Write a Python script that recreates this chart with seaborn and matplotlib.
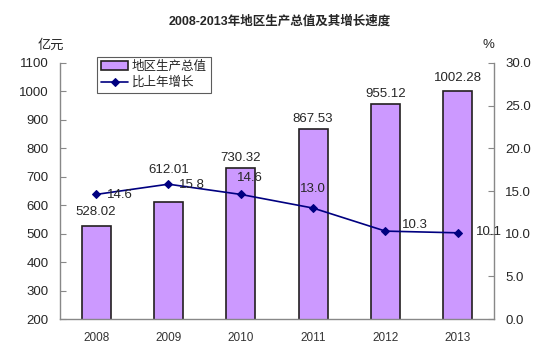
import numpy as np
import pandas as pd
import matplotlib
matplotlib.use('Agg')
import matplotlib.pyplot as plt
import seaborn as sns
from matplotlib.ticker import FixedLocator, FormatStrFormatter

# data
years = ['2008', '2009', '2010', '2011', '2012', '2013']
gdp = [528.02, 612.01, 730.32, 867.53, 955.12, 1002.28]
growth = [14.6, 15.8, 14.6, 13.0, 10.3, 10.1]

# label offsets in pixels (dx, dy) so they dodge the line
bar_lab_dy = [14, 32, 10, 10, 10, 13]
line_lab_off = [(24, -1), (23, -1), (9, 16), (0, 19), (29, 6), (31, 1)]

sns.set_style('white')
plt.rcParams['font.family'] = ['Liberation Sans', 'Noto Sans CJK SC', 'DejaVu Sans']

df = pd.DataFrame({'year': years, 'gdp': gdp, 'growth': growth})

fig = plt.figure(figsize=(5.6, 3.61), dpi=100)
ax = fig.add_axes([0.107, 0.1163, 0.775, 0.7092])

sns.barplot(data=df, x='year', y='gdp', color='#CC99FF', width=0.4,
            edgecolor='#231F20', linewidth=1.2, saturation=1, ax=ax,
            label='地区生产总值')
ax.set_ylim(200, 1100)
ax.set_xlim(-0.5, 5.5)
ax.set_yticks(range(200, 1101, 100))
ax.set_xlabel('')
ax.set_ylabel('')

for i, v in enumerate(gdp):
    ax.annotate(f'{v:.2f}', (i, v), xytext=(0, bar_lab_dy[i]),
                textcoords='offset pixels', ha='center', va='center', fontsize=9.5)

ax2 = ax.twinx()
sns.lineplot(x=np.arange(len(years)), y=growth, color='#000080', marker='D',
             markersize=4.5, markeredgecolor='#000080', linewidth=1.2, ax=ax2,
             label='比上年增长', legend=False)
ax2.set_ylim(0, 30)
ax2.set_yticks(np.arange(0, 31, 5))
ax2.yaxis.set_major_formatter(FormatStrFormatter('%.1f'))

for i, v in enumerate(growth):
    dx, dy = line_lab_off[i]
    ax2.annotate(f'{v:.1f}', (i, v), xytext=(dx, dy),
                 textcoords='offset pixels', ha='center', va='center', fontsize=9.5)

# axes styling
for a in (ax, ax2):
    a.spines['top'].set_visible(False)
    for s in ('left', 'right', 'bottom'):
        a.spines[s].set_color('#888888')
        a.spines[s].set_linewidth(1)
ax.spines['right'].set_visible(False)
ax2.spines['left'].set_visible(False)
ax2.spines['bottom'].set_visible(False)

ax.tick_params(axis='y', direction='in', length=4, color='#888888', labelsize=9.5, pad=8)
ax2.tick_params(axis='y', direction='in', length=4, color='#888888', labelsize=9.5, pad=8)
ax.tick_params(axis='x', which='major', length=0, labelsize=8.5, labelcolor='#333333', pad=9)
ax.xaxis.set_minor_locator(FixedLocator(np.arange(0.5, 5, 1)))
ax.tick_params(axis='x', which='minor', direction='in', length=4, color='#888888')

fig.text(0.5, 0.94, '2008-2013年地区生产总值及其增长速度', ha='center', va='center',
         fontsize=9, fontweight='bold')
fig.text(0.09, 0.875, '亿元', ha='center', va='center', fontsize=9.5)
fig.text(0.872, 0.875, '%', ha='center', va='center', fontsize=9.5)

h1, l1 = ax.get_legend_handles_labels()
h2, l2 = ax2.get_legend_handles_labels()
leg = ax.legend(h1 + h2, l1 + l2, loc='upper left', bbox_to_anchor=(97 / 560, 1 - 57 / 361),
                bbox_transform=fig.transFigure, fontsize=9, frameon=True, fancybox=False,
                borderpad=0.3, labelspacing=0.3, handlelength=2.2, handletextpad=0.3,
                borderaxespad=0)
leg.get_frame().set_edgecolor('#333333')
leg.get_frame().set_linewidth(0.8)

fig.savefig('out.png', dpi=100)
